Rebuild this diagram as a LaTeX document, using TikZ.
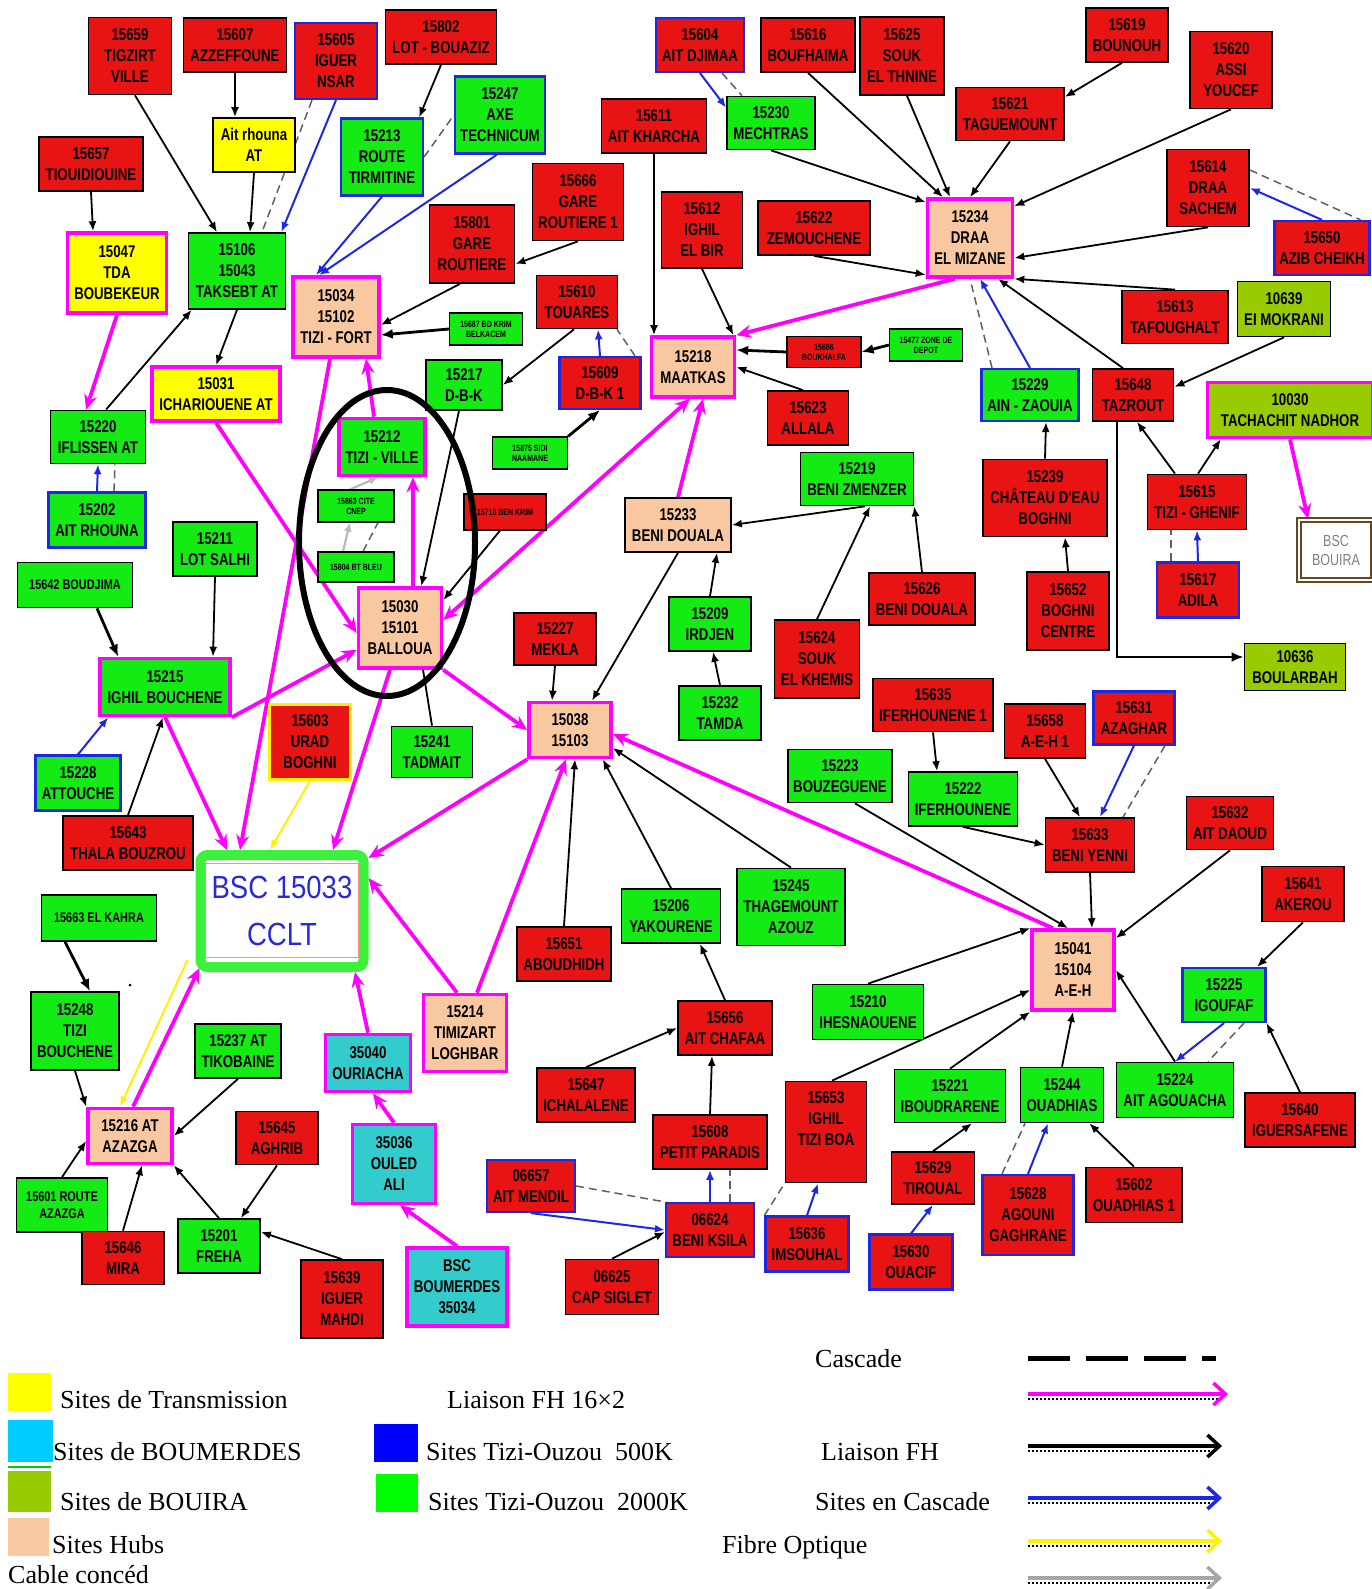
\documentclass[tikz,border=0pt]{standalone}
\usepackage{fontspec}
\setmainfont{Liberation Serif}
\newfontfamily\nf{Liberation Sans}[FakeStretch=0.78]
\newfontfamily\bscf{Liberation Sans}[FakeStretch=0.86]
\usetikzlibrary{arrows.meta,calc}
\definecolor{cred}{RGB}{232,20,20}
\definecolor{cgreen}{RGB}{20,235,20}
\definecolor{cpeach}{RGB}{250,200,160}
\definecolor{cyel}{RGB}{255,255,0}
\definecolor{cteal}{RGB}{51,204,204}
\definecolor{colive}{RGB}{153,204,0}
\definecolor{cmag}{RGB}{255,0,255}
\definecolor{cblue}{RGB}{30,40,225}
\definecolor{ccyan}{RGB}{0,204,255}
\definecolor{cbsc}{RGB}{40,40,220}
\definecolor{cframe}{RGB}{60,240,60}
\pgfdeclarelayer{back}
\pgfdeclarelayer{bg}
\pgfsetlayers{back,bg,main}
\newcommand{\SiteBox}[7]{\node[#2, minimum width=#5pt, minimum height=#6pt] (#1) at (#3,#4) {#7};}
\tikzset{
  site/.style={align=center, inner sep=1pt, font=\nf\bfseries\fontsize{17}{21}\selectfont, text=black, line width=1.7pt, draw=black},
  sr/.style={site, fill=cred},
  srb/.style={site, fill=cred, draw=cblue, line width=2.2pt},
  sry/.style={site, fill=cred, draw=yellow, line width=2.6pt},
  sg/.style={site, fill=cgreen},
  sgb/.style={site, fill=cgreen, draw=cblue, line width=2.2pt},
  sgm/.style={site, fill=cgreen, draw=cmag, line width=3.6pt},
  sy/.style={site, fill=cyel},
  sym/.style={site, fill=cyel, draw=cmag, line width=3.6pt},
  sh/.style={site, fill=cpeach, draw=cmag, line width=3.6pt},
  shk/.style={site, fill=cpeach},
  so/.style={site, fill=colive},
  som/.style={site, fill=colive, draw=cmag, line width=3.6pt},
  stm/.style={site, fill=cteal, draw=cmag, line width=3.6pt},
  tiny/.style={font=\nf\bfseries\fontsize{9}{10}\selectfont, line width=1.2pt},
  mid/.style={font=\nf\bfseries\fontsize{14}{17}\selectfont},
  eblk/.style={draw=black, line width=1.8pt, -{Latex[length=10pt,width=8pt]}},
  eblkT/.style={draw=black, line width=2.8pt, -{Latex[length=12pt,width=10pt]}},
  eplain/.style={draw=black, line width=1.8pt},
  emag/.style={draw=cmag, line width=3.8pt, -{Stealth[length=15pt,width=13pt]}},
  eblu/.style={draw=cblue, line width=2pt, -{Latex[length=10pt,width=8pt]}},
  ecas/.style={draw=gray!75!black, line width=1.5pt, dash pattern=on 8pt off 5pt},
  eyel/.style={draw=yellow, line width=2pt, -{Latex[length=10pt,width=8pt]}},
  egry/.style={draw=gray!55, line width=2.2pt, -{Latex[length=9pt,width=8pt]}},
  legtxt/.style={anchor=base west, inner sep=0pt, font=\fontsize{26}{30}\selectfont},
  legshadow/.style={draw=black, line width=1.6pt, dash pattern=on 2pt off 2pt},
}
\begin{document}
\begin{tikzpicture}[x=1pt,y=-1pt]
\useasboundingbox (0,0) rectangle (1371,1589);
\begin{pgfonlayer}{back}
\fill[white] (0,0) rectangle (1371,1589);
\end{pgfonlayer}

% ---------------- nodes ----------------
\SiteBox{tigzirt}{sr}{130}{56}{83}{77}{15659\\TIGZIRT\\VILLE}
\SiteBox{azzef}{sr}{235}{45}{103}{54}{15607\\AZZEFFOUNE}
\SiteBox{iguernsar}{srb}{336}{61}{82}{76}{15605\\IGUER\\NSAR}
\SiteBox{lotbouaziz}{sr}{441}{37}{111}{54}{15802\\LOT - BOUAZIZ}
\SiteBox{aitrhounaAT}{sy}{254}{145}{82}{54}{Ait rhouna\\AT}
\SiteBox{tiouid}{sr}{91}{164}{104}{54}{15657\\TIOUIDIOUINE}
\SiteBox{tirmitine}{sgb}{382}{157}{82}{77}{15213\\ROUTE\\TIRMITINE}
\SiteBox{technicum}{sgb}{500}{115}{90}{77}{15247\\AXE\\TECHNICUM}
\SiteBox{tda}{sym}{117}{273}{99}{80}{15047\\TDA\\BOUBEKEUR}
\SiteBox{taksebt}{sg}{237}{271}{97}{76}{15106\\15043\\TAKSEBT AT}
\SiteBox{tizifort}{sh}{336}{317}{86}{80}{15034\\15102\\TIZI - FORT}
\SiteBox{ichariouene}{sym}{216}{394}{128}{54}{15031\\ICHARIOUENE AT}
\SiteBox{aitdjimaa}{srb}{700}{45}{88}{54}{15604\\AIT DJIMAA}
\SiteBox{boufhaima}{sr}{808}{45}{94}{54}{15616\\BOUFHAIMA}
\SiteBox{soukthnine}{sr}{902}{56}{84}{78}{15625\\SOUK\\EL THNINE}
\SiteBox{aitkharcha}{sr}{654}{126}{105}{54}{15611\\AIT KHARCHA}
\SiteBox{mechtras}{sg}{771}{123}{88}{53}{15230\\MECHTRAS}
\SiteBox{gare1}{sr}{578}{202}{91}{77}{15666\\GARE\\ROUTIERE 1}
\SiteBox{gare}{sr}{472}{244}{85}{78}{15801\\GARE\\ROUTIERE}
\SiteBox{ighilbir}{sr}{702}{230}{81}{76}{15612\\IGHIL\\EL BIR}
\SiteBox{zemouchene}{sr}{814}{228}{112}{54}{15622\\ZEMOUCHENE}
\SiteBox{touares}{sr}{577}{302}{81}{53}{15610\\TOUARES}
\SiteBox{bdkrim}{sg,tiny}{486}{329}{73}{32}{15687 BD KRIM\\BELKACEM}
\SiteBox{maatkas}{sh}{693}{367}{83}{60}{15218\\MAATKAS}
\SiteBox{dbk1}{srb}{600}{383}{81}{52}{15609\\D-B-K 1}
\SiteBox{dbk}{sg}{464}{385}{76}{50}{15217\\D-B-K}
\SiteBox{boukhalfa}{sr,tiny}{824}{352}{74}{31}{15686\\BOUKHALFA}
\SiteBox{zonedepot}{sg,tiny}{926}{345}{73}{32}{15477 ZONE DE\\DEPOT}
\SiteBox{bounouh}{sr}{1127}{35}{82}{54}{15619\\BOUNOUH}
\SiteBox{assi}{sr}{1231}{70}{82}{77}{15620\\ASSI\\YOUCEF}
\SiteBox{taguemount}{sr}{1010}{114}{108}{53}{15621\\TAGUEMOUNT}
\SiteBox{draasachem}{sr}{1208}{188}{82}{77}{15614\\DRAA\\SACHEM}
\SiteBox{draa}{sh}{970}{238}{85}{78}{15234\\DRAA\\EL MIZANE}
\SiteBox{azib}{srb}{1322}{248}{95}{54}{15650\\AZIB CHEIKH}
\SiteBox{tafoughalt}{sr}{1175}{317}{106}{53}{15613\\TAFOUGHALT}
\SiteBox{mokrani}{so}{1284}{309}{93}{55}{10639\\EI MOKRANI}
\SiteBox{ainzaouia}{sgb}{1030}{395}{97}{52}{15229\\AIN - ZAOUIA}
\SiteBox{tazrout}{sr}{1133}{395}{81}{52}{15648\\TAZROUT}
\SiteBox{tachachit}{som}{1290}{410}{165}{55}{10030\\TACHACHIT NADHOR}
\SiteBox{iflissen}{sg}{98}{437}{95}{53}{15220\\IFLISSEN AT}
\SiteBox{aitrhouna}{sgb}{97}{520}{97}{55}{15202\\AIT RHOUNA}
\SiteBox{lotsalhi}{sg}{215}{549}{84}{54}{15211\\LOT SALHI}
\SiteBox{boudjima}{sg,mid}{75}{585}{115}{45}{15642 BOUDJIMA}
\SiteBox{ighilbouchene}{sgm}{165}{687}{130}{57}{15215\\IGHIL BOUCHENE}
\SiteBox{tiziville}{sgm}{382}{447}{86}{57}{15212\\TIZI - VILLE}
\SiteBox{cnep}{sg,tiny}{356}{506}{76}{32}{15863 CITE\\CNEP}
\SiteBox{btbleu}{sg,tiny}{356}{567}{76}{30}{15804 BT BLEU}
\SiteBox{balloua}{sh}{400}{628}{83}{80}{15030\\15101\\BALLOUA}
\SiteBox{urad}{sry}{310}{742}{81}{75}{15603\\URAD\\BOGHNI}
\SiteBox{tadmait}{sg}{432}{752}{81}{51}{15241\\TADMAIT}
\SiteBox{benkrim}{sr,tiny}{505}{512}{82}{36}{15718 BEN KRIM}
\SiteBox{allala}{sr}{808}{418}{81}{54}{15623\\ALLALA}
\SiteBox{benizmenzer}{sg}{857}{479}{113}{53}{15219\\BENI ZMENZER}
\SiteBox{benidouala}{shk}{678}{525}{106}{54}{15233\\BENI DOUALA}
\SiteBox{sidinaamane}{sg,tiny}{530}{453}{75}{32}{15875 SIDI\\NAAMANE}
\SiteBox{mekla}{sr}{555}{639}{82}{52}{15227\\MEKLA}
\SiteBox{irdjen}{sg}{710}{624}{82}{54}{15209\\IRDJEN}
\SiteBox{tamda}{sg}{720}{713}{82}{54}{15232\\TAMDA}
\SiteBox{soukkhemis}{sr}{817}{659}{85}{78}{15624\\SOUK\\EL KHEMIS}
\SiteBox{hub38}{sh}{570}{730}{82}{55}{15038\\15103}
\SiteBox{benidouala2}{sr}{922}{599}{106}{52}{15626\\BENI DOUALA}
\SiteBox{iferhounene1}{sr}{933}{705}{120}{53}{15635\\IFERHOUNENE 1}
\SiteBox{bouzeguene}{sg}{840}{776}{104}{53}{15223\\BOUZEGUENE}
\SiteBox{chateau}{sr}{1045}{498}{124}{77}{15239\\CHÂTEAU D'EAU\\BOGHNI}
\SiteBox{boghnicentre}{sr}{1068}{611}{82}{78}{15652\\BOGHNI\\CENTRE}
\SiteBox{tizighenif}{sr}{1197}{502}{99}{55}{15615\\TIZI - GHENIF}
\SiteBox{adila}{srb}{1198}{590}{82}{55}{15617\\ADILA}
\node[draw=brown!55!black, line width=2.2pt, double=white, double distance=2.5pt, minimum width=74pt, minimum height=60pt, align=center, inner sep=1pt, text=gray, font=\nf\fontsize{16}{19}\selectfont] (bscbouira) at (1336,550) {BSC\\BOUIRA};
\SiteBox{boularbah}{so}{1295}{667}{101}{47}{10636\\BOULARBAH}
\SiteBox{aeh1}{sr}{1045}{731}{81}{54}{15658\\A-E-H 1}
\SiteBox{azaghar}{srb}{1134}{718}{81}{53}{15631\\AZAGHAR}
\SiteBox{iferhounene}{sg}{963}{799}{109}{54}{15222\\IFERHOUNENE}
\SiteBox{attouche}{sgb}{78}{783}{85}{55}{15228\\ATTOUCHE}
\SiteBox{thala}{sr}{128}{843}{130}{54}{15643\\THALA BOUZROU}
\node[draw=cframe, line width=10pt, rounded corners=7pt, minimum width=163pt, minimum height=112pt, fill=white, align=center, inner sep=0pt, text=cbsc, font=\bscf\fontsize{32}{47}\selectfont] (bsc) at (282,911) {BSC 15033\\CCLT};
\draw[red!45, line width=1pt] (205,863) rectangle (358,957);
\SiteBox{elkahra}{sg,mid}{99}{918}{115}{46}{15663 EL KAHRA}
\SiteBox{tizibouchene}{sg}{75}{1031}{88}{78}{15248\\TIZI\\BOUCHENE}
\SiteBox{tikobaine}{sg}{238}{1051}{86}{54}{15237 AT\\TIKOBAINE}
\SiteBox{azazga}{sh}{130}{1136}{84}{55}{15216 AT\\AZAZGA}
\SiteBox{aghrib}{sr}{277}{1138}{82}{53}{15645\\AGHRIB}
\SiteBox{ouriacha}{stm}{368}{1063}{85}{57}{35040\\OURIACHA}
\SiteBox{ouledali}{stm}{394}{1164}{83}{79}{35036\\OULED\\ALI}
\SiteBox{timizart}{sh}{465}{1033}{83}{77}{15214\\TIMIZART\\LOGHBAR}
\SiteBox{aboudhidh}{sr}{564}{954}{94}{54}{15651\\ABOUDHIDH}
\SiteBox{yakourene}{sg}{671}{916}{99}{54}{15206\\YAKOURENE}
\SiteBox{thagemount}{sg}{791}{907}{108}{77}{15245\\THAGEMOUNT\\AZOUZ}
\SiteBox{aitchafaa}{sr}{725}{1028}{94}{54}{15656\\AIT CHAFAA}
\SiteBox{ichalalene}{sr}{586}{1095}{98}{54}{15647\\ICHALALENE}
\SiteBox{petitparadis}{sr}{710}{1142}{114}{54}{15608\\PETIT PARADIS}
\SiteBox{tiziboa}{sr}{826}{1132}{81}{101}{15653\\IGHIL\\TIZI BOA\\[6pt]}
\SiteBox{ihesnaouene}{sg}{868}{1012}{111}{55}{15210\\IHESNAOUENE}
\SiteBox{iboudrarene}{sg}{950}{1096}{111}{53}{15221\\IBOUDRARENE}
\SiteBox{beniyenni}{sr}{1090}{845}{89}{54}{15633\\BENI YENNI}
\SiteBox{aitdaoud}{sr}{1230}{823}{87}{53}{15632\\AIT DAOUD}
\SiteBox{akerou}{sr}{1303}{894}{82}{55}{15641\\AKEROU}
\SiteBox{aeh}{sh}{1073}{970}{82}{80}{15041\\15104\\A-E-H}
\SiteBox{igoufaf}{sgb}{1224}{995}{83}{54}{15225\\IGOUFAF}
\SiteBox{ouadhias}{sg}{1062}{1095}{83}{55}{15244\\OUADHIAS}
\SiteBox{agouacha}{sg}{1175}{1090}{117}{55}{15224\\AIT AGOUACHA}
\SiteBox{iguersafene}{sr}{1300}{1120}{110}{54}{15640\\IGUERSAFENE}
\SiteBox{tiroual}{sr}{933}{1178}{83}{52}{15629\\TIROUAL}
\SiteBox{ouadhias1}{sr}{1134}{1195}{96}{55}{15602\\OUADHIAS 1}
\SiteBox{agouni}{srb}{1028}{1215}{91}{80}{15628\\AGOUNI\\GAGHRANE}
\SiteBox{ouacif}{srb}{911}{1262}{83}{55}{15630\\OUACIF}
\SiteBox{routeazazga}{sg,mid}{62}{1205}{91}{54}{15601 ROUTE\\AZAZGA}
\SiteBox{mira}{sr}{123}{1258}{82}{53}{15646\\MIRA}
\SiteBox{freha}{sg}{219}{1246}{82}{54}{15201\\FREHA}
\SiteBox{iguermahdi}{sr}{342}{1299}{82}{78}{15639\\IGUER\\MAHDI}
\SiteBox{bscboumerdes}{stm}{457}{1287}{100}{78}{BSC\\BOUMERDES\\35034}
\SiteBox{aitmendil}{srb}{531}{1186}{88}{52}{06657\\AIT MENDIL}
\SiteBox{beniksila}{srb}{710}{1230}{88}{54}{06624\\BENI KSILA}
\SiteBox{capsiglet}{sr}{612}{1287}{93}{55}{06625\\CAP SIGLET}
\SiteBox{imsouhal}{srb}{807}{1244}{83}{55}{15636\\IMSOUHAL}

% circle around Tizi-Ville area
\draw[line width=6pt] (387,543) ellipse [x radius=88pt, y radius=153pt];
\fill (130,985) circle (1.5pt);

% ---------------- connectors ----------------
\begin{pgfonlayer}{bg}
\draw[eblk] ([xshift=5pt]tigzirt.south) -- ([xshift=-20pt]taksebt.north);
\draw[eblk] (azzef.south) -- ([xshift=-19pt]aitrhounaAT.north);
\draw[eblk] (aitrhounaAT.south) -- ([xshift=13pt]taksebt.north);
\draw[eblu] (iguernsar.south) -- ([xshift=-5pt]taksebt.north east);
\draw[ecas] ([xshift=-24pt]iguernsar.south) -- ([xshift=25pt]taksebt.north);
\draw[eblk] (tiouid.south) -- ([xshift=-24pt]tda.north);
\draw[eblk] (lotbouaziz.south) -- ([xshift=-5pt]tirmitine.north east);
\draw[ecas] (tirmitine.east) -- (technicum.west);
\draw[eblu] (tirmitine.south) -- ([xshift=-20pt]tizifort.north);
\draw[eblu] ([xshift=-3pt]technicum.south) -- ([xshift=-17pt]tizifort.north);
\draw[eblk] (taksebt.south) -- (ichariouene.north);
\draw[eblk] ([xshift=8pt]iflissen.north) -- ([xshift=4pt]taksebt.south west);
\draw[emag] (tda.south) -- ([xshift=-12pt]iflissen.north);
\draw[eblk] (gare1.south) -- ([yshift=-20pt]gare.east);
\draw[eblk] ([xshift=-12pt]gare.south) -- ([yshift=-8pt]tizifort.east);
\draw[eblkT] (bdkrim.west) -- ([yshift=-18pt]tizifort.east);
\draw[eblk] ([xshift=-3pt]touares.south) -- (dbk.east);
\draw[eblu] (dbk1.north) -- ([xshift=21pt]touares.south);
\draw[ecas] ([xshift=35pt]dbk1.north) -- ([xshift=40pt]touares.south);
\draw[eblkT] (sidinaamane.north east) -- (dbk1.south);
\draw[eblk] (aitkharcha.south) -- ([xshift=-39pt]maatkas.north);
\draw[eblk] (ighilbir.south) -- ([xshift=-3pt]maatkas.north east);
\draw[eblkT] (boukhalfa.west) -- ([yshift=17pt]maatkas.east);
\draw[eblkT] (zonedepot.west) -- (boukhalfa.east);
\draw[eblk] ([xshift=-5pt]allala.north) -- (maatkas.east);
\draw[emag] ([xshift=-15pt]draa.south) -- (maatkas.north east);
\draw[eblu] (aitdjimaa.south) -- ([yshift=-12pt]mechtras.north west);
\draw[ecas] ([xshift=22pt]aitdjimaa.south) -- ([xshift=-29pt]mechtras.north);
\draw[eblk] (mechtras.south) -- ([yshift=-5pt]draa.north west);
\draw[eblk] (boufhaima.south) -- ([xshift=-27pt]draa.north);
\draw[eblk] ([xshift=5pt]soukthnine.south) -- ([xshift=-20pt]draa.north);
\draw[eblk] (taguemount.south) -- (draa.north);
\draw[eblk] ([xshift=-5pt]bounouh.south) -- ([yshift=17pt]taguemount.east);
\draw[eblk] (assi.south) -- ([yshift=-9pt]draa.north east);
\draw[eblk] (draasachem.south) -- ([yshift=-20pt]draa.east);
\draw[eblu] (azib.north) -- (draasachem.east);
\draw[ecas] ([yshift=18pt]draasachem.east) -- ([xshift=-10pt]azib.north east);
\draw[eblk] (zemouchene.south) -- ([yshift=4pt]draa.south west);
\draw[eblk] (tafoughalt.north) -- (draa.south east);
\draw[eblk] ([xshift=-10pt]tazrout.north) -- ([xshift=28pt]draa.south);
\draw[eblk] (mokrani.south) -- ([yshift=8pt]tazrout.east);
\draw[eblu] (ainzaouia.north) -- ([xshift=10pt]draa.south);
\draw[ecas] ([xshift=-38pt]ainzaouia.north) -- (draa.south);
\draw[eblkT] ([xshift=-16pt]tazrout.south) |- ([yshift=10pt]boularbah.west);
\draw[eblk] ([xshift=-22pt]tizighenif.north) -- ([xshift=4pt]tazrout.south);
\draw[eblk] ([xshift=1pt]tizighenif.north) -- ([xshift=15pt]tachachit.south west);
\draw[emag] (tachachit.south) -- ([xshift=-28pt]bscbouira.north);
\draw[eblu] (adila.north) -- (tizighenif.south);
\draw[ecas] ([xshift=-27pt]adila.north) -- ([xshift=-26pt]tizighenif.south);
\draw[eblk] (chateau.north) -- ([xshift=16pt]ainzaouia.south);
\draw[eblk] (boghnicentre.north) -- ([xshift=20pt]chateau.south);
\draw[eblk] ([xshift=8pt]benizmenzer.south) -- (benidouala.east);
\draw[eblk] (benidouala2.north) -- (benizmenzer.south east);
\draw[eblk] (soukkhemis.north) -- ([xshift=13pt]benizmenzer.south);
\draw[emag] (benidouala.north) -- ([xshift=10pt]maatkas.south);
\draw[eblk] (benidouala.south) -- ([xshift=22pt]hub38.north);
\draw[eblk] (irdjen.north) -- ([xshift=39pt]benidouala.south);
\draw[eblk] (tamda.north) -- ([xshift=3pt]irdjen.south);
\draw[eblk] (mekla.south) -- ([xshift=-18pt]hub38.north);
\draw[emag] (balloua.south east) -- (hub38.west);
\draw[emag, {Stealth[length=15pt,width=13pt]}-{Stealth[length=15pt,width=13pt]}] ([yshift=8pt]balloua.east) -- ([xshift=-3pt]maatkas.south);
\draw[emag] ([xshift=13pt]balloua.north) -- ([xshift=31pt]tiziville.south);
\draw[emag] ([xshift=-8pt]tiziville.north) -- ([xshift=30pt]tizifort.south);
\draw[emag] ([xshift=-6pt]tizifort.south) -- ([xshift=-42pt]bsc.north);
\draw[emag] ([xshift=-10pt]balloua.south) -- ([xshift=51pt]bsc.north);
\draw[emag] (ichariouene.south) -- ([yshift=-5pt]balloua.west);
\draw[emag] (ighilbouchene.south east) -- ([yshift=20pt]balloua.south west);
\draw[emag] (ighilbouchene.south) -- ([xshift=-55pt]bsc.north);
\draw[eyel] (urad.south) -- ([xshift=-12pt]bsc.north);
\draw[emag] (hub38.south west) -- ([yshift=-8pt]bsc.north east);
\draw[emag] ([xshift=-8pt]timizart.north) -- ([yshift=-28pt]bsc.north east);
\draw[emag] ([xshift=12pt]timizart.north) -- ([xshift=-4pt]hub38.south);
\draw[emag] ([xshift=-20pt]aeh.north) -- ([yshift=-4pt]hub38.east);
\draw[eblk] (aboudhidh.north) -- ([xshift=5pt]hub38.south);
\draw[eblk] (yakourene.north) -- ([xshift=-10pt]hub38.south east);
\draw[eblk] (thagemount.north) -- ([yshift=-18pt]hub38.east);
\draw[eblk] ([xshift=15pt]bouzeguene.south) -- ([xshift=-5pt]aeh.north);
\draw[eblk] (aitchafaa.north) -- ([xshift=29pt]yakourene.south);
\draw[eblk] (ichalalene.north) -- (aitchafaa.west);
\draw[eblk] (petitparadis.north) -- ([xshift=-13pt]aitchafaa.south);
\draw[eblu] (beniksila.north) -- (petitparadis.south);
\draw[ecas] ([xshift=20pt]beniksila.north) -- ([xshift=20pt]petitparadis.south);
\draw[eblu] (aitmendil.south) -- (beniksila.west);
\draw[ecas] (aitmendil.east) -- (beniksila.north west);
\draw[eblk] (capsiglet.north) -- ([yshift=-2pt]beniksila.west);
\draw[eblu] (imsouhal.north) -- ([xshift=-8pt]tiziboa.south);
\draw[ecas] (imsouhal.north west) -- (tiziboa.south west);
\draw[eblk] ([xshift=6pt]tiziboa.north) -- ([yshift=-20pt]aeh.west);
\draw[eblk] (ihesnaouene.north) -- (aeh.north west);
\draw[eblk] (iboudrarene.north) -- (aeh.south west);
\draw[eblk] (ouadhias.north) -- (aeh.south);
\draw[eblk] (agouacha.north) -- (aeh.east);
\draw[eblk] (aitdaoud.south) -- ([yshift=-10pt]aeh.north east);
\draw[eblk] (beniyenni.south) -- ([xshift=19pt]aeh.north);
\draw[eblk] (akerou.south) -- ([xshift=33pt]igoufaf.north);
\draw[eblk] (iguersafene.north) -- (igoufaf.south east);
\draw[eblu] (igoufaf.south) -- (agouacha.north);
\draw[ecas] ([xshift=20pt]igoufaf.south) -- ([xshift=33pt]agouacha.north);
\draw[eblk] (tiroual.north) -- ([xshift=22pt]iboudrarene.south);
\draw[eblu] (ouacif.north) -- (tiroual.south);
\draw[eblu] (agouni.north) -- ([xshift=-14pt]ouadhias.south);
\draw[ecas] ([xshift=-26pt]agouni.north) -- ([xshift=-37pt]ouadhias.south);
\draw[eblk] (ouadhias1.north) -- ([xshift=-15pt]ouadhias.south east);
\draw[eblk] (iferhounene1.south) -- ([xshift=-26pt]iferhounene.north);
\draw[eblk] (iferhounene.south) -- (beniyenni.west);
\draw[eblk] (aeh1.south) -- ([xshift=-10pt]beniyenni.north);
\draw[eblu] (azaghar.south) -- ([xshift=10pt]beniyenni.north);
\draw[ecas] ([xshift=31pt]azaghar.south) -- ([xshift=33pt]beniyenni.north);
\draw[eblk] ([xshift=-5pt]dbk.south) -- ([xshift=-22pt]balloua.north east);
\draw[eblk] ([xshift=-5pt]benkrim.south) -- ([yshift=28pt]balloua.east);
\draw[eplain] (tadmait.north) -- ([xshift=23pt]balloua.south);
\draw[egry] ([xshift=-6pt]cnep.north) -- ([xshift=-4pt]tiziville.south);
\draw[egry] ([xshift=-13pt]btbleu.north) -- ([xshift=-6pt]cnep.south);
\draw[ecas] ([xshift=7pt]btbleu.north) -- ([xshift=22pt]cnep.south);
\draw[eblk] (lotsalhi.south) -- ([xshift=48pt]ighilbouchene.north);
\draw[eblkT] ([xshift=22pt]boudjima.south) -- ([xshift=20pt]ighilbouchene.north west);
\draw[eblu] (attouche.north) -- ([xshift=10pt]ighilbouchene.south west);
\draw[eblk] (thala.north) -- ([xshift=-2pt]ighilbouchene.south);
\draw[eblu] (aitrhouna.north) -- (iflissen.south);
\draw[ecas] ([xshift=17pt]aitrhouna.north) -- ([xshift=17pt]iflissen.south);
\draw[eblkT] ([xshift=-34pt]elkahra.south) -- ([xshift=15pt]tizibouchene.north);
\draw[eblk] (tizibouchene.south) -- (azazga.north west);
\draw[eblk] (tikobaine.south) -- (azazga.east);
\draw[eblk] (routeazazga.north) -- ([yshift=-5pt]azazga.west);
\draw[eblk] (mira.north) -- ([xshift=12pt]azazga.south);
\draw[eblk] (freha.north) -- (azazga.south east);
\draw[eblk] (aghrib.south) -- ([xshift=-20pt]freha.north east);
\draw[eblk] (iguermahdi.north) -- ([yshift=14pt]freha.east);
\draw[emag] ([xshift=3pt]azazga.north) -- ([xshift=4pt,yshift=4pt]bsc.south west);
\draw[eyel] ([xshift=-8pt,yshift=12pt]bsc.south west) -- ([xshift=-10pt]azazga.north);
\draw[emag] (ouriacha.north) -- ([xshift=73pt]bsc.south);
\draw[emag] (ouledali.north) -- ([xshift=5pt]ouriacha.south);
\draw[emag] (bscboumerdes.north) -- ([xshift=6pt]ouledali.south);
\end{pgfonlayer}

% ---------------- legend ----------------
\fill[cyel] (8,1373) rectangle (51,1411);
\fill[ccyan] (8,1420) rectangle (53,1462);
\fill[green!70!black!60!green] (8,1466) rectangle (51,1468);
\fill[colive] (8,1471) rectangle (51,1512);
\fill[cpeach] (8,1518) rectangle (49,1556);
\fill[blue] (374,1424) rectangle (418,1462);
\fill[green] (376,1474) rectangle (418,1512);
\node[legtxt] (l1) at (60,1408) {Sites de Transmission};
\node[legtxt] (l2) at (53,1460) {Sites de BOUMERDES};
\node[legtxt] (l3) at (60,1510) {Sites de BOUIRA};
\node[legtxt] (l4) at (52,1553) {Sites Hubs};
\node[legtxt] (l5) at (8,1583) {Cable concéd};
\node[legtxt] (l6) at (447,1408) {Liaison FH 16×2};
\node[legtxt] (l7) at (426,1460) {Sites Tizi-Ouzou\ \ 500K};
\node[legtxt] (l8) at (428,1510) {Sites Tizi-Ouzou\ \ 2000K};
\node[legtxt] (l9) at (815,1367) {Cascade};
\node[legtxt] (l10) at (821,1460) {Liaison FH};
\node[legtxt] (l11) at (815,1510) {Sites en Cascade};
\node[legtxt] (l12) at (722,1553) {Fibre Optique};
\draw[black, line width=5pt, dash pattern=on 42pt off 16pt] (1028,1358) -- (1216,1358);
\draw[legshadow] (1028,1399) -- (1220,1399);
\draw[cmag, line width=4.5pt, -{Straight Barb[length=12pt,width=22pt,line width=3.5pt]}] (1028,1394) -- (1228,1394);
\draw[legshadow] (1028,1451) -- (1214,1451);
\draw[black, line width=4.5pt, -{Straight Barb[length=12pt,width=22pt,line width=3.5pt]}] (1028,1446) -- (1222,1446);
\draw[legshadow] (1028,1503) -- (1214,1503);
\draw[cblue, line width=4.5pt, -{Straight Barb[length=12pt,width=22pt,line width=3.5pt]}] (1028,1498) -- (1222,1498);
\draw[legshadow] (1028,1546) -- (1214,1546);
\draw[yellow, line width=4.5pt, -{Straight Barb[length=12pt,width=22pt,line width=3.5pt]}] (1028,1541) -- (1222,1541);
\draw[legshadow] (1028,1583) -- (1214,1583);
\draw[gray!70, line width=4.5pt, -{Straight Barb[length=12pt,width=22pt,line width=3.5pt]}] (1028,1578) -- (1222,1578);
\end{tikzpicture}
\end{document}
